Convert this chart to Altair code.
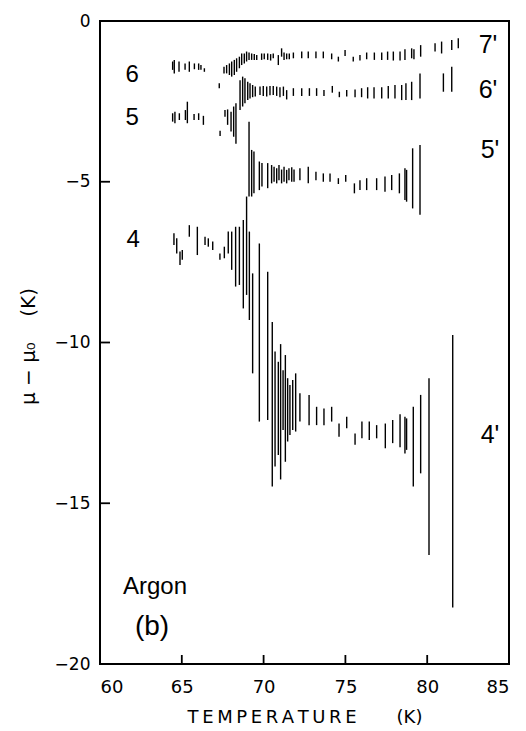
import altair as alt
import pandas as pd

# ---- branch "6" (left, upper) ----
t6 = [64.44, 64.54, 64.83, 65.20, 65.46, 65.77, 66.03, 66.17, 66.38, 67.29, 67.58, 67.74, 67.91, 68.05, 68.21, 68.35, 68.52]
hi6 = [-1.26, -1.21, -1.26, -1.32, -1.26, -1.32, -1.32, -1.37, -1.47, -1.94, -1.42, -1.37, -1.32, -1.26, -1.21, -1.16, -1.11]
lo6 = [-1.52, -1.63, -1.58, -1.52, -1.58, -1.50, -1.52, -1.52, -1.58, -2.09, -1.63, -1.63, -1.68, -1.73, -1.68, -1.58, -1.47]

# ---- branch 7' ----
t7p = [68.66, 68.82, 68.96, 69.11, 69.27, 69.43, 69.58, 69.88, 70.04, 70.25, 70.43, 70.59, 70.90, 71.10, 71.25, 71.41, 71.57, 71.82,
       72.33, 72.73, 73.20, 73.65, 74.16, 74.57, 74.98, 75.48, 75.89, 76.30, 76.77, 77.22, 77.58, 77.93, 78.34, 78.64, 79.05, 79.19,
       79.60, 80.48, 80.88, 81.50, 81.90]
hi7p = [-1.01, -1.01, -0.95, -0.98, -1.01, -1.03, -1.06, -1.01, -1.01, -1.01, -1.03, -1.01, -1.06, -0.85, -0.98, -1.01, -1.01, -0.98,
        -0.95, -0.95, -0.95, -0.95, -1.01, -1.11, -0.90, -1.11, -1.06, -0.98, -0.98, -0.98, -0.95, -0.95, -0.95, -0.88, -0.85, -0.88,
        -0.75, -0.69, -0.64, -0.59, -0.54]
lo7p = [-1.37, -1.32, -1.26, -1.21, -1.21, -1.21, -1.21, -1.21, -1.19, -1.21, -1.23, -1.16, -1.37, -1.11, -1.21, -1.19, -1.19, -1.16,
        -1.16, -1.16, -1.16, -1.16, -1.19, -1.26, -1.09, -1.26, -1.23, -1.19, -1.21, -1.21, -1.21, -1.23, -1.23, -1.21, -1.16, -1.19,
        -1.11, -0.95, -1.01, -0.90, -0.85]

# ---- branch "5" (left) ----
t5 = [64.44, 64.58, 64.85, 65.22, 65.34, 65.75, 66.03, 66.32, 67.34, 67.64, 67.80, 68.01, 68.17, 68.31]
hi5 = [-2.87, -2.82, -2.87, -2.77, -2.51, -2.89, -2.87, -2.95, -3.41, -2.77, -2.75, -2.82, -2.66, -2.56]
lo5 = [-3.13, -3.18, -3.08, -3.08, -3.18, -3.08, -3.08, -3.23, -3.58, -2.98, -3.23, -3.44, -3.60, -3.82]

# ---- branch 6' ----
t6p = [68.56, 68.72, 68.86, 69.03, 69.17, 69.33, 69.49, 69.78, 69.98, 70.19, 70.39, 70.59, 70.80, 71.00, 71.21, 71.41, 71.82,
       72.33, 72.80, 73.24, 73.69, 74.20, 74.63, 75.08, 75.59, 75.99, 76.36, 76.75, 77.22, 77.62, 78.03, 78.44, 78.70, 79.05,
       79.56, 80.99, 81.50]
hi6p = [-1.84, -1.73, -1.78, -1.89, -1.94, -1.99, -2.04, -2.04, -2.02, -2.04, -2.02, -2.02, -2.04, -2.06, -2.04, -2.15, -2.09,
        -2.09, -2.09, -2.09, -2.15, -2.02, -2.20, -2.15, -2.13, -2.09, -2.06, -2.06, -2.06, -2.02, -1.99, -1.99, -1.94, -1.89,
        -1.63, -1.63, -1.42]
lo6p = [-2.77, -2.66, -2.56, -2.46, -2.41, -2.37, -2.35, -2.30, -2.33, -2.35, -2.31, -2.30, -2.33, -2.37, -2.33, -2.44, -2.33,
        -2.33, -2.33, -2.33, -2.33, -2.23, -2.37, -2.35, -2.37, -2.37, -2.41, -2.41, -2.41, -2.41, -2.41, -2.46, -2.46, -2.46,
        -2.41, -2.20, -2.20]

# ---- branch 5' ----
t5p = [69.11, 69.27, 69.41, 69.74, 69.90, 70.25, 70.49, 70.64, 70.80, 70.94, 71.10, 71.25, 71.41, 71.55, 71.72, 71.86,
       72.22, 72.73, 73.20, 73.65, 74.06, 74.57, 75.02, 75.55, 75.89, 76.30, 76.91, 77.42, 77.83, 78.30, 78.64, 78.74,
       79.11, 79.56]
hi5p = [-3.13, -4.01, -4.06, -4.37, -4.42, -4.42, -4.48, -4.53, -4.58, -4.48, -4.62, -4.53, -4.63, -4.58, -4.55, -4.62,
        -4.58, -4.53, -4.69, -4.74, -4.74, -4.89, -4.79, -5.05, -4.95, -4.89, -4.89, -4.84, -4.79, -4.74, -4.58, -4.63,
        -3.96, -3.86]
lo5p = [-5.46, -5.46, -5.36, -5.26, -5.15, -5.20, -5.05, -5.00, -5.05, -4.95, -5.05, -5.00, -5.05, -4.95, -5.00, -5.00,
        -4.95, -5.05, -4.95, -5.00, -5.00, -5.07, -5.00, -5.36, -5.26, -5.26, -5.26, -5.31, -5.26, -5.36, -5.57, -5.62,
        -5.83, -6.03]

# ---- branch "4" (left) ----
t4 = [64.52, 64.69, 64.89, 65.03, 65.46, 65.95, 66.42, 66.62, 66.89, 67.33, 67.60, 67.84, 68.05, 68.29, 68.52, 68.76, 68.96, 69.13]
hi4 = [-6.60, -6.76, -7.17, -7.12, -6.35, -6.40, -6.71, -6.76, -6.86, -7.23, -7.02, -6.55, -6.55, -6.40, -6.40, -6.19, -5.46, -6.55]
lo4 = [-6.97, -7.23, -7.59, -7.43, -6.71, -7.28, -6.97, -7.02, -7.12, -7.43, -7.38, -7.23, -7.74, -8.26, -8.21, -8.94, -8.52, -9.30]

# ---- branch 4' ----
t4p = [69.33, 69.74, 70.25, 70.53, 70.70, 70.90, 71.04, 71.19, 71.33, 71.47, 71.61, 71.78, 71.96, 72.22, 72.78, 73.24, 73.69,
       74.16, 74.61, 75.08, 75.59, 76.01, 76.46, 76.91, 77.44, 77.89, 78.34, 78.64, 78.74, 79.15, 79.60, 80.11, 81.56]
hi4p = [-7.85, -6.92, -7.80, -9.36, -10.28, -10.60, -10.05, -10.86, -10.39, -11.11, -11.32, -11.17, -10.96, -11.58, -11.63,
        -12.00, -12.05, -12.00, -12.52, -12.31, -12.83, -12.46, -12.46, -12.57, -12.52, -12.41, -12.23, -12.31, -12.36, -12.00,
        -11.63, -11.11, -9.77]
lo4p = [-10.96, -12.46, -12.41, -14.48, -13.86, -13.50, -14.26, -12.72, -13.71, -13.08, -12.88, -12.72, -12.77, -12.46, -12.57,
        -12.57, -12.57, -12.46, -12.93, -12.67, -13.18, -12.98, -13.03, -12.98, -13.29, -13.13, -13.26, -13.45, -13.34, -14.48,
        -14.07, -16.61, -18.24]

# ---- labels ----
lab_text = ["6", "5", "4", "7'", "6'", "5'", "4'", "Argon", "(b)"]
lab_t = [61.96, 61.96, 62.02, 83.72, 83.72, 83.84, 83.84, 63.36, 63.18]
lab_mu = [-1.68, -3.02, -6.81, -0.75, -2.15, -4.01, -12.88, -17.60, -18.85]
lab_size = [24, 24, 24, 25, 25, 25, 25, 24, 28]

x_ticks = [60, 65, 70, 75, 80, 85]
y_ticks = [0, -5, -10, -15, -20]
inner_x_ticks = [65, 70, 75, 80]
inner_y_ticks = [-5, -10, -15]
tick_len_y = 0.28   # inward tick length in mu units (style)
tick_len_x = 0.61   # inward tick length in K units (style)

rows = []
for ts, his, los in [(t6, hi6, lo6), (t7p, hi7p, lo7p), (t5, hi5, lo5), (t6p, hi6p, lo6p),
                     (t5p, hi5p, lo5p), (t4, hi4, lo4), (t4p, hi4p, lo4p)]:
    for t, h, l in zip(ts, his, los):
        rows.append({"T": t, "hi": h, "lo": l, "w": 1.4})
# bottom inner ticks, drawn like the bars
for v in inner_x_ticks:
    rows.append({"T": v, "hi": -20 + tick_len_y, "lo": -20.0, "w": 1.8})
bars = pd.DataFrame(rows)
labels = pd.DataFrame({"text": lab_text, "T": lab_t, "mu": lab_mu, "size": lab_size})
yticks_df = pd.DataFrame({"hi": inner_y_ticks, "T": [60.0] * len(inner_y_ticks),
                          "T2": [60.0 + tick_len_x] * len(inner_y_ticks)})

xscale = alt.Scale(domain=[60, 85], nice=False, zero=False)
yscale = alt.Scale(domain=[-20, 0], nice=False, zero=False)

sp = "\u2009"
nb = "\u00a0"
xtitle = sp.join("TEMPERATURE") + nb * 7 + "(K)"
ytitle = "\u03bc" + nb + "\u2212" + nb + "\u03bc\u2080" + nb * 4 + "(K)"

xaxis = alt.Axis(orient="bottom", values=x_ticks, ticks=False, domain=False, grid=False, labelFont="DejaVu Sans",
                 labelFontSize=18, labelColor="black", labelPadding=14,
                 title=xtitle, titleFont="DejaVu Sans", titleFontSize=18, titleFontWeight="normal",
                 titleColor="black", titlePadding=12)
yaxis = alt.Axis(orient="left", values=y_ticks, ticks=False, domain=False, grid=False, labelFont="DejaVu Sans",
                 labelFontSize=17, labelColor="black", labelPadding=10,
                 title=ytitle, titleFont="DejaVu Sans", titleFontSize=20,
                 titleFontWeight="normal", titleColor="black", titleX=-72, titleY=325,
                 titleAngle=-90, titleBaseline="middle", titleAlign="center")

base_bars = alt.Chart(bars).mark_rule(color="black").encode(
    x=alt.X("T:Q", scale=xscale, axis=xaxis, title=xtitle),
    y=alt.Y("hi:Q", scale=yscale, axis=yaxis, title=ytitle),
    y2="lo:Q",
    strokeWidth=alt.StrokeWidth("w:Q", scale=None, legend=None),
)

yt = alt.Chart(yticks_df).mark_rule(color="black", strokeWidth=1.8).encode(
    x=alt.X("T:Q", scale=xscale, axis=xaxis, title=xtitle),
    x2="T2:Q",
    y=alt.Y("hi:Q", scale=yscale, axis=yaxis, title=ytitle),
)

txt = alt.Chart(labels).mark_text(font="Liberation Sans", color="black", align="center", baseline="middle").encode(
    x=alt.X("T:Q", scale=xscale, axis=xaxis, title=xtitle),
    y=alt.Y("mu:Q", scale=yscale, axis=yaxis, title=ytitle),
    text="text:N",
    size=alt.Size("size:Q", scale=None, legend=None))

chart = alt.layer(base_bars, yt, txt).properties(
    width=409, height=643,
    autosize=alt.AutoSizeParams(type="none"),
    padding={"left": 100, "top": 21, "right": 17, "bottom": 67},
    background="white",
).configure_view(stroke="black", strokeWidth=2)

chart.save("out.html", embed_options={"renderer": "svg", "actions": False})
